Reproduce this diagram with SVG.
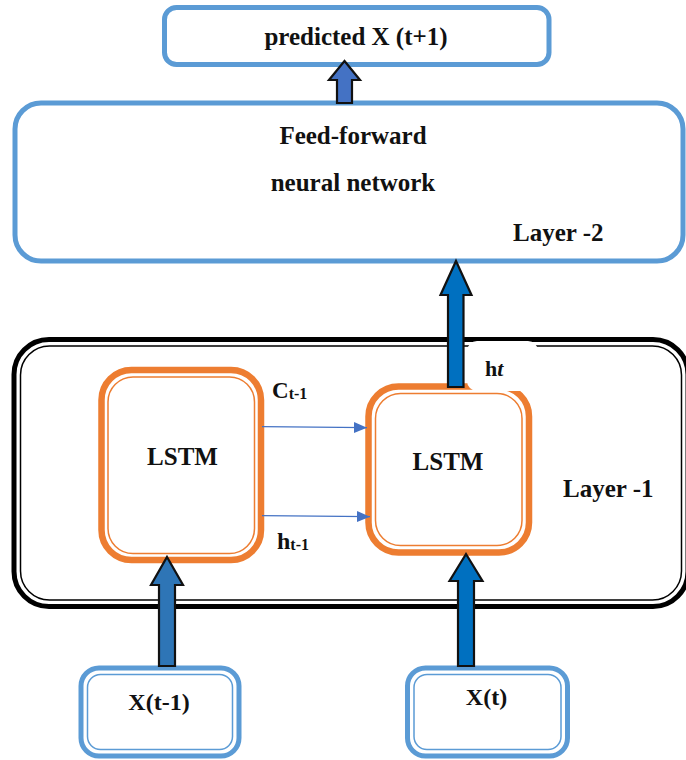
<svg xmlns="http://www.w3.org/2000/svg" width="686" height="760" viewBox="0 0 686 760">
<defs>
<style>
text{font-family:'Liberation Serif','Times New Roman',Tinos,'DejaVu Serif',serif;font-weight:bold;fill:#111;}
.blue{fill:#fff;stroke:#5B9BD5;stroke-width:5;}
.bthin{fill:none;stroke:#5B9BD5;stroke-width:1.5;}
.or{fill:#fff;stroke:#ED7D31;stroke-width:6.5;}
.othin{fill:none;stroke:#ED7D31;stroke-width:1.5;}
.blk{fill:#fff;stroke:#000;stroke-width:5;}
.kthin{fill:none;stroke:#000;stroke-width:1.5;}
.barrow{stroke:#111;stroke-width:2.2;stroke-linejoin:miter;}
.thin{stroke:#4472C4;stroke-width:1.3;fill:none;}
</style>
<marker id="ah" markerUnits="userSpaceOnUse" markerWidth="14" markerHeight="12" refX="13" refY="6" orient="auto">
<path d="M0,0.5 L13,6 L0,11.5 Z" fill="#4472C4"/>
</marker>
</defs>
<rect width="686" height="760" fill="#fff"/>

<g id="output">
<rect class="blue" x="164.5" y="7.5" width="384.5" height="57" rx="12"/>
<text x="356" y="45" font-size="25" text-anchor="middle">predicted X (t+1)</text>
</g>

<g id="ffnn">
<rect class="blue" x="15" y="103" width="668" height="158" rx="26"/>
<text x="353" y="144" font-size="25" text-anchor="middle">Feed-forward</text>
<text x="353" y="191" font-size="25" text-anchor="middle">neural network</text>
<text x="513" y="241" font-size="25">Layer -2</text>
</g>

<g id="layer1">
<rect class="blk" x="14" y="339.5" width="674" height="267" rx="35"/>
<rect class="kthin" x="20.5" y="346" width="661" height="254" rx="29"/>
<text x="563" y="497" font-size="25">Layer -1</text>
</g>

<g id="lstm1">
<rect class="or" x="101.5" y="370" width="159.5" height="190" rx="30"/>
<rect class="othin" x="108" y="377" width="146.5" height="176.5" rx="25"/>
<text x="182.5" y="465" font-size="25" text-anchor="middle">LSTM</text>
</g>

<g id="lstm2">
<rect class="or" x="368.5" y="386.5" width="160.5" height="166" rx="30"/>
<rect class="othin" x="375.5" y="393.5" width="146.5" height="152" rx="25"/>
<text x="448" y="470" font-size="25" text-anchor="middle">LSTM</text>
</g>

<g id="ht-label">
<rect x="467" y="341" width="71" height="50" rx="10" fill="#fff"/>
<text x="485" y="376" font-size="22">h<tspan font-style="italic">t</tspan></text>
</g>

<g id="x-prev">
<rect class="blue" x="81" y="668" width="158" height="88" rx="18"/>
<rect class="bthin" x="87.5" y="674.5" width="145" height="75" rx="13"/>
<text x="159" y="710" font-size="24" text-anchor="middle">X(t-1)</text>
</g>

<g id="x-curr">
<rect class="blue" x="407.5" y="668" width="160" height="88" rx="18"/>
<rect class="bthin" x="414" y="674.5" width="147" height="75" rx="13"/>
<text x="486.5" y="705" font-size="24" text-anchor="middle">X(t)</text>
</g>

<g id="connectors">
<polygon class="barrow" fill="#4472C4" points="344.5,61 360,80 352,80 352,103 337,103 337,80 329,80"/>
<polygon class="barrow" fill="#0070C0" points="456,261 471.5,295 463.5,295 463.5,387 448,387 448,295 440.5,295"/>
<polygon class="barrow" fill="#2E75B6" points="167,557 183,585 175,585 175,666 159,666 159,585 151,585"/>
<polygon class="barrow" fill="#0070C0" points="466,554 482.5,581 474,581 474,666 458,666 458,581 449.5,581"/>
<line class="thin" x1="262" y1="426.7" x2="367" y2="427.7" marker-end="url(#ah)"/>
<line class="thin" x1="262" y1="515.7" x2="370" y2="516.7" marker-end="url(#ah)"/>
<text x="272" y="398" font-size="23">C<tspan font-size="16" dy="1">t-1</tspan></text>
<text x="277" y="549" font-size="24">h<tspan font-size="16" dy="1">t-1</tspan></text>
</g>
</svg>
